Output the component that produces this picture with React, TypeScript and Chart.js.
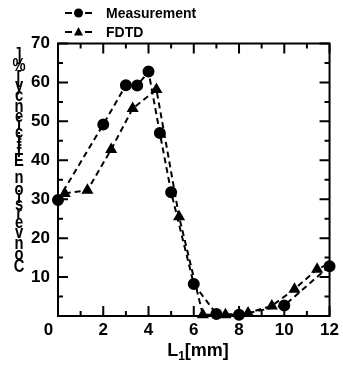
import React, { useEffect, useRef } from "react";
import { Chart, registerables } from "chart.js";
Chart.register(...registerables);

const measX = [0, 2, 3, 3.5, 4, 4.5, 5, 6, 7, 8, 10, 12];
const measY = [29.8, 49.2, 59.3, 59.2, 62.8, 47, 31.8, 8.2, 0.5, 0.3, 2.7, 12.8];
const fdtdX = [0.3, 1.3, 2.35, 3.3, 4.35, 5.35, 6.4, 7.4, 8.4, 9.45, 10.45, 11.45, 12];
const fdtdY = [31.5, 32.3, 42.8, 53.3, 58.2, 25.5, 0.3, 0.3, 0.8, 2.6, 6.9, 12.0, 13.5];
const fdtdMarker = [1, 1, 1, 1, 1, 1, 1, 1, 1, 1, 1, 1, 0];
const legendLabels = ["Measurement", "FDTD"];
const xTitleMain = "L";
const xTitleSub = "1";
const xTitleRest = "[mm]";
const yTitle = "Conversion Efficiency[%]";

const FONT = '"Liberation Sans", Arial, Helvetica, sans-serif';

const framePlugin = {
  id: "frame",
  beforeDatasetsDraw(chart: any) {
    const { ctx, chartArea: a, scales } = chart;
    const xs = scales.x;
    const ys = scales.y;
    ctx.save();
    ctx.strokeStyle = "#000";
    ctx.lineWidth = 2;
    ctx.strokeRect(a.left, a.top, a.right - a.left, a.bottom - a.top);
    ctx.beginPath();
    for (let v = xs.min; v <= xs.max; v += 1) {
      const px = xs.getPixelForValue(v);
      const len = v % 2 === 0 ? 10 : 5;
      ctx.moveTo(px, a.bottom);
      ctx.lineTo(px, a.bottom - len);
      ctx.moveTo(px, a.top);
      ctx.lineTo(px, a.top + len);
    }
    for (let v = ys.min; v <= ys.max; v += 5) {
      const py = ys.getPixelForValue(v);
      const len = v % 10 === 0 ? 10 : 5;
      ctx.moveTo(a.left, py);
      ctx.lineTo(a.left + len, py);
      ctx.moveTo(a.right, py);
      ctx.lineTo(a.right - len, py);
    }
    ctx.stroke();
    ctx.restore();
  },
  afterDraw(chart: any) {
    const { ctx } = chart;
    ctx.save();
    ctx.fillStyle = "#000";
    ctx.strokeStyle = "#000";
    // legend
    ctx.font = "bold 14px " + FONT;
    ctx.textBaseline = "middle";
    ctx.textAlign = "left";
    const rows = [13, 32];
    legendLabels.forEach((lab, i) => {
      const y = rows[i];
      ctx.lineWidth = 2;
      ctx.beginPath();
      ctx.moveTo(65, y);
      ctx.lineTo(72, y);
      ctx.moveTo(85, y);
      ctx.lineTo(92, y);
      ctx.stroke();
      ctx.beginPath();
      if (i === 0) {
        ctx.arc(78.5, y, 4.5, 0, Math.PI * 2);
      } else {
        ctx.moveTo(78.5, y - 5);
        ctx.lineTo(83, y + 3.5);
        ctx.lineTo(74, y + 3.5);
        ctx.closePath();
      }
      ctx.fill();
      ctx.fillText(lab, 106, y + 1);
    });
    // x title
    ctx.font = "bold 18px " + FONT;
    ctx.textBaseline = "alphabetic";
    const wL = ctx.measureText(xTitleMain).width;
    const wR = ctx.measureText(xTitleRest).width;
    ctx.font = "bold 12px " + FONT;
    const wS = ctx.measureText(xTitleSub).width;
    const total = wL + wS + wR;
    let x0 = 198 - total / 2;
    const base = 356;
    ctx.font = "bold 18px " + FONT;
    ctx.fillText(xTitleMain, x0, base);
    ctx.font = "bold 12px " + FONT;
    ctx.fillText(xTitleSub, x0 + wL, base + 4);
    ctx.font = "bold 18px " + FONT;
    ctx.fillText(xTitleRest, x0 + wL + wS, base);
    // y title: upright glyphs stacked vertically
    ctx.font = "bold 18px " + FONT;
    ctx.textAlign = "center";
    ctx.textBaseline = "middle";
    const chars = yTitle.split("");
    const widths = chars.map((c) => ctx.measureText(c).width);
    const sum = widths.reduce((p, c) => p + c, 0);
    const bottom = 274;
    const top = 52;
    const k = (bottom - top) / sum;
    let cur = bottom;
    chars.forEach((c, i) => {
      const slot = widths[i] * k;
      const cy = cur - slot / 2;
      cur -= slot;
      if (c === " ") return;
      ctx.save();
      ctx.translate(19, cy);
      ctx.scale(0.82, 1.0);
      ctx.fillText(c, 0, 0);
      ctx.restore();
    });
    ctx.restore();
  },
};

export default function App() {
  const ref = useRef<HTMLCanvasElement>(null);
  useEffect(() => {
    if (!ref.current) return;
    const chart = new Chart(ref.current, {
      type: "scatter",
      data: {
        datasets: [
          {
            label: legendLabels[0],
            data: measX.map((x, i) => ({ x, y: measY[i] })),
            showLine: true,
            borderColor: "#000",
            backgroundColor: "#000",
            borderWidth: 2,
            borderDash: [6, 4],
            pointStyle: "circle",
            pointRadius: 5,
            pointBackgroundColor: "#000",
            pointBorderColor: "#000",
            clip: false,
          } as any,
          {
            label: legendLabels[1],
            data: fdtdX.map((x, i) => ({ x, y: fdtdY[i] })),
            showLine: true,
            borderColor: "#000",
            backgroundColor: "#000",
            borderWidth: 2,
            borderDash: [6, 4],
            pointStyle: "triangle",
            pointRadius: fdtdMarker.map((m) => (m ? 5 : 0)),
            pointBackgroundColor: "#000",
            pointBorderColor: "#000",
            clip: false,
          } as any,
        ],
      },
      options: {
        animation: false,
        responsive: true,
        maintainAspectRatio: false,
        layout: { padding: { left: 0, right: 11, top: 43.5, bottom: 0 } },
        plugins: { legend: { display: false }, tooltip: { enabled: false }, title: { display: false } },
        scales: {
          x: {
            type: "linear",
            min: 0,
            max: 12,
            grid: { display: false, drawTicks: false },
            border: { display: false },
            afterFit: (s: any) => {
              s.height = 49;
            },
            ticks: {
              stepSize: 2,
              padding: 4,
              color: "#000",
              font: { family: FONT, size: 17, weight: "bold" },
              callback: (v: any) => (v === 0 ? "0    " : String(v)),
            },
          },
          y: {
            min: 0,
            max: 70,
            grid: { display: false, drawTicks: false },
            border: { display: false },
            afterFit: (s: any) => {
              s.width = 58;
            },
            ticks: {
              stepSize: 10,
              padding: 8,
              color: "#000",
              font: { family: FONT, size: 17, weight: "bold" },
              callback: (v: any) => (v === 0 ? "" : String(v)),
            },
          },
        },
      } as any,
      plugins: [framePlugin],
    });
    return () => chart.destroy();
  }, []);
  return (
    <div style={{ position: "fixed", left: 0, top: 0, width: 343, height: 365, background: "#fff" }}>
      <canvas ref={ref} />
    </div>
  );
}
